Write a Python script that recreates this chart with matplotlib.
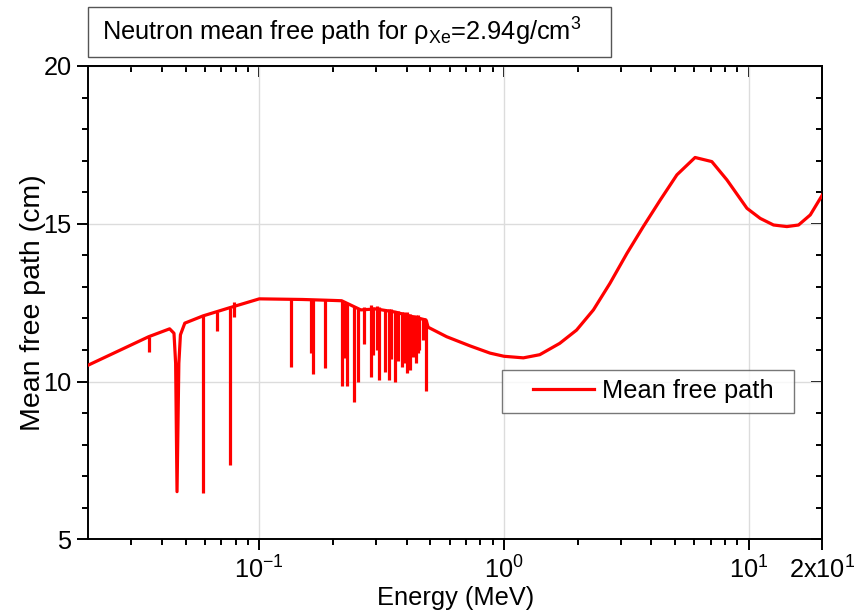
import matplotlib
matplotlib.use("Agg")
import numpy as np
from matplotlib import pyplot as plt
from matplotlib.legend_handler import HandlerLine2D
from matplotlib.patches import Rectangle
from matplotlib.ticker import FixedLocator, NullFormatter

plt.rcParams['font.family'] = ['Liberation Sans', 'DejaVu Sans']
plt.rcParams['mathtext.fontset'] = 'custom'
plt.rcParams['mathtext.rm'] = 'Liberation Sans'
plt.rcParams['mathtext.it'] = 'Liberation Sans:italic'
plt.rcParams['mathtext.default'] = 'regular'

# smooth part of the mean free path curve (incl. the broad resonance near 46 keV)
energy_mev = [0.02, 0.0353, 0.043, 0.0448, 0.0455, 0.0461, 0.0469, 0.0476, 0.0496,
              0.0589, 0.075, 0.1, 0.15, 0.2, 0.217, 0.26, 0.30, 0.36, 0.42, 0.48,
              0.49, 0.583, 0.726, 0.877, 1.0, 1.2, 1.4, 1.69, 1.98, 2.32, 2.71,
              3.18, 3.71, 4.35, 5.09, 6.04, 7.07, 8.15, 9.84, 11.15, 12.64, 14.33,
              15.99, 17.86, 20.0]
mfp_cm = [10.52, 11.42, 11.67, 11.53, 10.58, 6.51, 10.58, 11.48, 11.85,
          12.08, 12.33, 12.62, 12.60, 12.57, 12.56, 12.27, 12.30, 12.20, 12.06, 11.95,
          11.72, 11.42, 11.13, 10.90, 10.80, 10.75, 10.85, 11.21, 11.63, 12.27, 13.11,
          14.06, 14.91, 15.75, 16.55, 17.10, 16.97, 16.39, 15.49, 15.17, 14.96, 14.91,
          14.96, 15.28, 15.91]

# narrow resonances: energy, lowest and highest value of each spike
res_energy = [0.0353, 0.0589, 0.0672, 0.0757, 0.0787, 0.1345, 0.162, 0.165, 0.185,
              0.217, 0.2223, 0.2275, 0.2434, 0.2535, 0.268, 0.285, 0.292, 0.302,
              0.309, 0.326, 0.340, 0.346, 0.358, 0.370, 0.382, 0.392, 0.400,
              0.4125, 0.426, 0.4365, 0.444, 0.451, 0.465, 0.472, 0.480]
res_low = [10.95, 6.46, 11.61, 7.36, 12.04, 10.47, 10.90, 10.23, 10.42,
           9.86, 10.75, 9.86, 9.36, 10.00, 11.20, 10.13, 10.85, 11.00,
           10.05, 10.31, 10.05, 10.70, 10.00, 10.66, 10.47, 10.60, 10.26,
           10.37, 10.79, 10.60, 10.90, 11.00, 11.32, 11.60, 9.71]
res_high = [11.42, 12.08, 12.21, 12.33, 12.53, 12.60, 12.58, 12.58, 12.57,
            12.56, 12.50, 12.50, 12.35, 12.30, 12.35, 12.43, 12.35, 12.40,
            12.35, 12.30, 12.30, 12.30, 12.25, 12.25, 12.20, 12.20, 12.20,
            12.15, 12.10, 12.10, 12.10, 12.05, 12.00, 12.00, 11.95]

x_major = [0.1, 1, 10, 20]
x_major_labels = ['$10^{-1}$', '$10^{0}$', '$10^{1}$', '2x$10^{1}$']
x_minor = [m * d for d in (0.01, 0.1, 1) for m in range(2, 10) if 0.02 < m * d < 20]

FS = 18.3
RED = '#ff0000'

fig = plt.figure(figsize=(8.58, 6.12), dpi=100)
ax = fig.add_axes([0.1029, 0.1188, 0.8555, 0.7734])

ax.plot(energy_mev, mfp_cm, color=RED, linewidth=2.3, label='Mean free path', zorder=3)
ax.vlines(res_energy, res_low, res_high, color=RED, linewidth=2.3, zorder=3)

ax.set_xscale('log')
ax.set_xlim(0.02, 20)
ax.set_ylim(5, 20)

ax.xaxis.set_major_locator(FixedLocator(x_major))
ax.set_xticklabels(x_major_labels)
ax.xaxis.set_minor_locator(FixedLocator(x_minor))
ax.xaxis.set_minor_formatter(NullFormatter())
ax.set_yticks([5, 10, 15, 20])
ax.set_yticks(np.arange(5, 21, 1), minor=True)

ax.grid(True, which='major', color='#dcdcdc', linewidth=1.0, zorder=0)
ax.tick_params(which='major', direction='out', length=8, width=1.4, labelsize=FS, pad=4)
ax.tick_params(which='minor', direction='out', length=4, width=1.4)
for s in ax.spines.values():
    s.set_linewidth(1.4)

# mirrored ticks on top and right point inwards
top = ax.secondary_xaxis('top')
top.xaxis.set_major_locator(FixedLocator(x_major))
top.xaxis.set_minor_locator(FixedLocator(x_minor))
top.xaxis.set_major_formatter(NullFormatter())
top.xaxis.set_minor_formatter(NullFormatter())
top.tick_params(which='major', direction='in', length=8, width=1.4)
top.tick_params(which='minor', direction='in', length=4, width=1.4)
right = ax.secondary_yaxis('right')
right.set_yticks([5, 10, 15, 20])
right.set_yticks(np.arange(5, 21, 1), minor=True)
right.yaxis.set_major_formatter(NullFormatter())
right.tick_params(which='major', direction='in', length=8, width=1.4)
right.tick_params(which='minor', direction='in', length=4, width=1.4)
for sec in (top, right):
    for s in sec.spines.values():
        s.set_linewidth(1.4)

ax.set_xlabel('Energy (MeV)', fontsize=FS, labelpad=2)
ax.set_ylabel('Mean free path (cm)', fontsize=20.5, labelpad=-2)

leg = ax.legend(loc='lower left', bbox_to_anchor=(0.5636, 0.2668, 0.3978, 0.09),
                mode='expand', borderaxespad=0, fancybox=False, fontsize=FS,
                handlelength=3.25, handletextpad=0.3, borderpad=0.38,
                handler_map={matplotlib.lines.Line2D: HandlerLine2D(xpad=0.85)})
leg.get_frame().set_edgecolor('#555555')
leg.get_frame().set_linewidth(1.0)

# title box above the plot
fig.add_artist(Rectangle((88 / 858, 1 - 57 / 612), 523 / 858, 50 / 612,
                         transform=fig.transFigure, facecolor='white',
                         edgecolor='#555555', linewidth=1.0))
fig.text(102 / 858, 1 - 41 / 612,
         r'Neutron mean free path for $\rho_{\mathrm{Xe}}$=2.94g/cm$^3$',
         fontsize=FS, ha='left', va='baseline')

fig.savefig('out.png', dpi=100)
